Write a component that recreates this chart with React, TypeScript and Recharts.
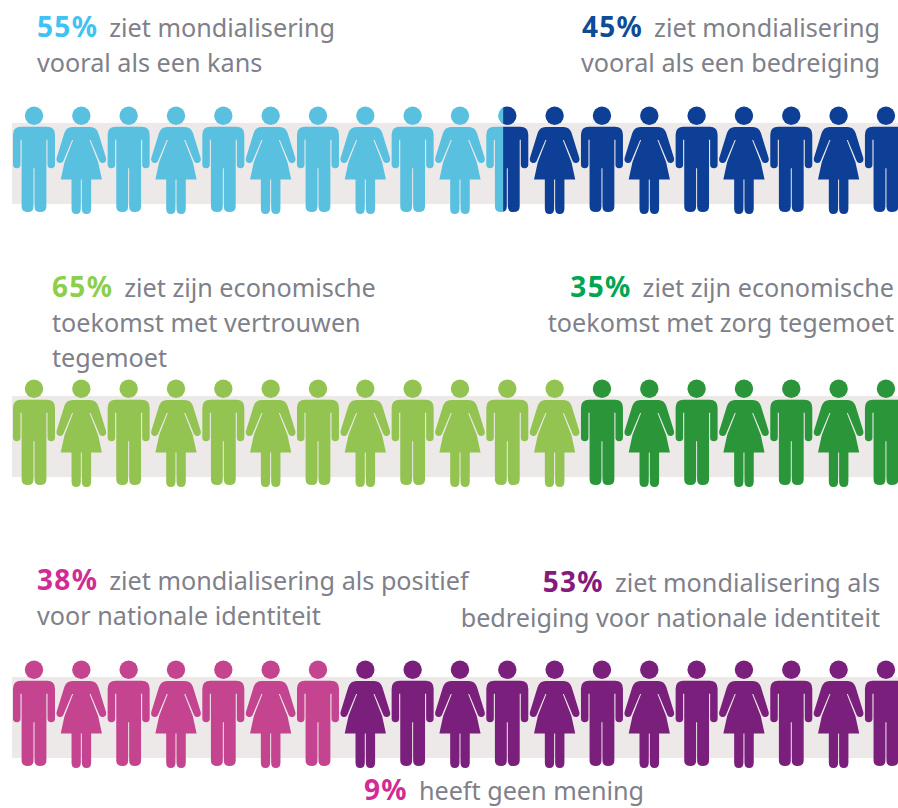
import { ReferenceArea, Scatter, ScatterChart, XAxis, YAxis } from "recharts";

// one row of figures: 19 people, alternating man / woman
const peopleIndex = [0, 1, 2, 3, 4, 5, 6, 7, 8, 9, 10, 11, 12, 13, 14, 15, 16, 17, 18];
const genders = ["man", "woman"];

// how many figures carry the first colour in each row
const globalisationSplit = 10.4;
const economySplit = 12;
const identitySplit = 7;

const STEP = 47.33;
const FIRST = 34;
const WIDTH = 898;
const ROW_H = 120;

const FONT = "'Noto Sans', sans-serif";
const GREY = "#80808a";

const Person = (props: any) => {
  const { cx, cy, payload, fill } = props;
  const { index, cut, side, rowId } = payload;
  const isMan = genders[index % 2] === "man";
  const clipId = `clip-${rowId}-${index}-${side}`;
  return (
    <g transform={`translate(${cx},${cy})`} fill={fill}>
      {cut !== null && (
        <clipPath id={clipId}>
          {side === "left" ? (
            <rect x={-30} y={-60} width={30 + cut} height={120} />
          ) : (
            <rect x={cut} y={-60} width={30 - cut} height={120} />
          )}
        </clipPath>
      )}
      <g clipPath={cut !== null ? `url(#${clipId})` : undefined}>
        <circle cx={0} cy={-44.3} r={9.2} />
        {isMan ? (
          <path d="M-13,-33.3 L13,-33.3 Q21,-33.3 21,-25.3 L21,4.5 Q21,8.3 17.2,8.3 Q13.5,8.3 13.5,4.5 L13.5,-20.3 L12.4,-20.3 L12.4,46.5 Q12.4,52 6,52 Q0.5,52 0.5,46.5 L0.5,8.3 L-0.5,8.3 L-0.5,46.5 Q-0.5,52 -6,52 Q-12.4,52 -12.4,46.5 L-12.4,-20.3 L-13.5,-20.3 L-13.5,4.5 Q-13.5,8.3 -17.2,8.3 Q-21,8.3 -21,4.5 L-21,-25.3 Q-21,-33.3 -13,-33.3 Z" />
        ) : (
          <path d="M-9,-33 L9,-33 Q15,-33 17,-27 L24.7,-2 Q25.5,2 22,3 Q19,3.6 18,1 L9.2,-20 L8.2,-20 L16.8,2 L20.6,19.5 L9.8,19.5 L9.8,48.5 Q9.8,54 5.2,54 Q0.5,54 0.5,48.5 L0.5,19.5 L-0.5,19.5 L-0.5,48.5 Q-0.5,54 -5.2,54 Q-9.8,54 -9.8,48.5 L-9.8,19.5 L-20.6,19.5 L-16.8,2 L-8.2,-20 L-9.2,-20 L-18,1 Q-19,3.6 -22,3 Q-25.5,2 -24.7,-2 L-17,-27 Q-15,-33 -9,-33 Z" />
        )}
      </g>
    </g>
  );
};

const PeopleRow = ({
  rowId,
  top,
  split,
  colors,
}: {
  rowId: string;
  top: number;
  split: number;
  colors: string[];
}) => {
  const cutIndex = Math.floor(split);
  const frac = split - cutIndex;
  const cut = frac > 0 ? -21 + frac * 42 : null;
  const left = peopleIndex
    .filter((i) => i < split)
    .map((i) => ({ index: i, row: 0.5, rowId, side: "left", cut: i === cutIndex ? cut : null }));
  const right = peopleIndex
    .filter((i) => i >= cutIndex)
    .map((i) => ({ index: i, row: 0.5, rowId, side: "right", cut: i === cutIndex ? cut : null }));

  return (
    <div style={{ position: "absolute", left: 0, top }}>
      <ScatterChart width={WIDTH} height={ROW_H} margin={{ top: 0, right: 0, bottom: 0, left: 0 }}>
        <XAxis
          hide
          type="number"
          dataKey="index"
          domain={[-FIRST / STEP, (WIDTH - FIRST) / STEP]}
        />
        <YAxis hide type="number" dataKey="row" domain={[0, 1]} />
        <ReferenceArea x1={-0.465} x2={(WIDTH - FIRST) / STEP} y1={0.133} y2={0.808} fill="#ede9e9" fillOpacity={1} stroke="none" />
        <Scatter data={left} fill={colors[0]} shape={Person} isAnimationActive={false} />
        <Scatter data={right} fill={colors[1]} shape={Person} isAnimationActive={false} />
      </ScatterChart>
    </div>
  );
};

const Caption = ({
  x,
  right,
  y,
  pct,
  color,
  lines,
  lineH = 35,
}: {
  x?: number;
  right?: number;
  y: number;
  pct: string;
  color: string;
  lines: string[];
  lineH?: number;
}) => (
  <div
    style={{
      position: "absolute",
      left: x,
      right: right !== undefined ? WIDTH - right : undefined,
      top: y,
      fontFamily: FONT,
      fontSize: 25.2,
      lineHeight: `${lineH}px`,
      color: GREY,
      textAlign: right !== undefined ? "right" : "left",
      whiteSpace: "nowrap",
    }}
  >
    {lines.map((line, i) => (
      <div key={i}>
        {i === 0 && (
          <span style={{ color, fontWeight: 700, fontSize: 28, letterSpacing: 1.3, marginRight: 11 }}>{pct}</span>
        )}
        {line}
      </div>
    ))}
  </div>
);

const App = () => (
  <div style={{ position: "absolute", left: 0, top: 0, width: WIDTH, height: 808, background: "#fff", overflow: "hidden" }}>
    <Caption x={37} y={9} pct="55%" color="#3fc3f2" lines={["ziet mondialisering", "vooral als een kans"]} />
    <Caption right={880} y={9} pct="45%" color="#0f4c98" lines={["ziet mondialisering", "vooral als een bedreiging"]} />
    <PeopleRow rowId="a" top={100} split={globalisationSplit} colors={["#5ac0e0", "#0e3f96"]} />

    <Caption x={52} y={269} pct="65%" color="#8ccf4d" lines={["ziet zijn economische", "toekomst met vertrouwen", "tegemoet"]} />
    <Caption right={894} y={269} pct="35%" color="#00a651" lines={["ziet zijn economische", "toekomst met zorg tegemoet"]} />
    <PeopleRow rowId="b" top={373} split={economySplit} colors={["#93c452", "#2a9639"]} />

    <Caption x={37} y={562} pct="38%" color="#d02c94" lines={["ziet mondialisering als positief", "voor nationale identiteit"]} />
    <Caption right={880} y={564} pct="53%" color="#85197c" lines={["ziet mondialisering als", "bedreiging voor nationale identiteit"]} />
    <PeopleRow rowId="c" top={654} split={identitySplit} colors={["#c4448f", "#7a1f7c"]} />

    <Caption x={364} y={775} lineH={29} pct="9%" color="#d02c94" lines={["heeft geen mening"]} />
  </div>
);

export default App;
